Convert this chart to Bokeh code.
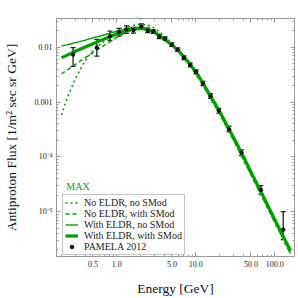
from bokeh.plotting import figure
from bokeh.models import (LogAxis, FixedTicker, Legend, LegendItem, Whisker,
                          ColumnDataSource, TeeHead)
from bokeh.core.properties import value
from bokeh.embed import file_html
from bokeh.resources import INLINE

# ---------------- data ----------------
energy = [0.2, 0.225, 0.25, 0.3, 0.4, 0.5, 0.6, 0.7, 0.85, 1.0, 1.25, 1.5, 1.75,
          2.0, 2.5, 3.0, 3.5, 4.0, 5.0, 6.0, 7.0, 8.5, 10, 12, 15, 20, 30, 40,
          50, 70, 100, 130, 158]

no_eldr_no_smod = [0.00058, 0.00098, 0.00145, 0.0027, 0.0058, 0.0087, 0.0110,
                   0.0131, 0.0160, 0.0185, 0.0220, 0.0243, 0.0258, 0.0264,
                   0.0254, 0.0225, 0.0190, 0.0160, 0.0117, 0.0088, 0.0067,
                   0.0047, 0.0034, 0.00222, 0.00126, 0.00062, 0.000205,
                   9.1e-5, 4.75e-5, 1.82e-5, 6.4e-6, 3.0e-6, 1.72e-6]

no_eldr_with_smod = [0.0033, 0.0037, 0.0041, 0.0049, 0.0065, 0.0080, 0.0095,
                     0.0110, 0.0132, 0.0152, 0.0182, 0.0205, 0.0220, 0.0227,
                     0.0222, 0.0199, 0.0171, 0.0146, 0.0110, 0.0085, 0.0065,
                     0.0046, 0.0033, 0.0022, 0.00125, 0.00061, 0.000203,
                     9.0e-5, 4.7e-5, 1.8e-5, 6.3e-6, 3.0e-6, 1.7e-6]

with_eldr_no_smod = [0.0106, 0.0110, 0.0114, 0.0122, 0.0136, 0.0149, 0.0160,
                     0.0170, 0.0184, 0.0197, 0.0214, 0.0226, 0.0232, 0.0233,
                     0.0222, 0.0198, 0.0170, 0.0147, 0.0114, 0.0090, 0.0069,
                     0.0050, 0.0036, 0.0024, 0.00137, 0.00067, 0.000225,
                     0.000100, 5.2e-5, 2.0e-5, 7.0e-6, 3.3e-6, 1.9e-6]

with_eldr_with_smod = [0.0065, 0.0070, 0.0075, 0.0085, 0.0102, 0.0117, 0.0131,
                       0.0143, 0.0160, 0.0175, 0.0194, 0.0208, 0.0217, 0.0221,
                       0.0212, 0.0188, 0.0162, 0.0141, 0.0111, 0.0088, 0.0068,
                       0.0049, 0.0036, 0.0024, 0.00138, 0.00068, 0.000228,
                       0.000102, 5.3e-5, 2.05e-5, 7.2e-6, 3.4e-6, 1.95e-6]

pamela_e = [0.28, 0.56, 0.82, 1.07, 1.33, 1.63, 2.05, 2.46, 2.9, 3.45, 4.1,
            4.97, 5.9, 7.08, 8.5, 10.1, 12.3, 15.4, 19.6, 26.4, 37.9, 66.8, 128]
pamela_f = [0.0074, 0.0099, 0.0160, 0.0190, 0.0212, 0.0207, 0.0241, 0.0204,
            0.0195, 0.0157, 0.0144, 0.0112, 0.0091, 0.0065, 0.0048, 0.0036,
            0.0022, 0.0013, 0.00070, 0.00032, 0.00012, 2.5e-5, 4.7e-6]
pamela_lo = [0.0045, 0.0069, 0.0134, 0.0160, 0.0180, 0.0182, 0.0213, 0.0186,
             0.0180, 0.0145, 0.0134, 0.0104, 0.0085, 0.0060, 0.0044, 0.0033,
             0.0020, 0.00118, 0.00063, 0.00029, 0.000106, 2.1e-5, 3.1e-6]
pamela_hi = [0.0099, 0.0140, 0.0198, 0.0222, 0.0248, 0.0232, 0.0268, 0.0224,
             0.0211, 0.0170, 0.0155, 0.0121, 0.0098, 0.0070, 0.0052, 0.0039,
             0.0024, 0.00143, 0.00077, 0.00036, 0.000135, 3.0e-5, 1.0e-5]

model_label = ["MAX"]
model_label_x = [0.23]
model_label_y = [2.9e-5]

x_ticks = [0.5, 1, 5, 10, 50, 100]
x_tick_labels = ["0.5", "1.0", "5.0", "10.0", "50.0", "100.0"]
x_minor = [0.2, 0.3, 0.4, 0.6, 0.7, 0.8, 0.9, 2, 3, 4, 6, 7, 8, 9,
           20, 30, 40, 60, 70, 80, 90]
y_ticks = [1e-5, 1e-4, 1e-3, 1e-2]
y_tick_labels = ["10\u207b\u2075", "10\u207b\u2074", "0.001", "0.01"]
y_minor = [k * d for d in (1e-6, 1e-5, 1e-4, 1e-3, 1e-2) for k in range(2, 10)]

# ---------------- style ----------------
GREEN = "#00a000"
GRAY = "#999999"
SERIF = "Liberation Serif"

p = figure(width=298, height=298, x_axis_type="log", y_axis_type="log",
           x_range=(0.1728, 177.8), y_range=(1.52e-6, 0.0337),
           output_backend="svg", toolbar_location=None,
           min_border_left=53, min_border_right=4, min_border_top=18,
           min_border_bottom=41)
p.grid.visible = False
p.outline_line_color = GRAY
p.background_fill_color = "white"
p.border_fill_color = "white"

xt = FixedTicker(ticks=x_ticks, minor_ticks=x_minor)
yt = FixedTicker(ticks=y_ticks, minor_ticks=y_minor)


def style(ax):
    ax.axis_line_color = GRAY
    ax.major_tick_line_color = GRAY
    ax.minor_tick_line_color = GRAY
    ax.major_tick_in = 4
    ax.major_tick_out = 0
    ax.minor_tick_in = 2
    ax.minor_tick_out = 0
    ax.major_label_text_font = SERIF
    ax.major_label_text_font_size = "8px"
    ax.major_label_text_color = "#222222"
    ax.axis_label_text_font = SERIF
    ax.axis_label_text_font_size = "13.5px"
    ax.axis_label_text_font_style = "normal"
    ax.axis_label_text_color = "#111111"


xa = p.xaxis[0]
xa.ticker = xt
xa.major_label_overrides = dict(zip(x_ticks, x_tick_labels))
xa.axis_label = "Energy [GeV]"
style(xa)
xa.major_label_standoff = 4
xa.axis_label_standoff = 11

ya = p.yaxis[0]
ya.ticker = yt
ya.major_label_overrides = dict(zip(y_ticks, y_tick_labels))
ya.axis_label = "Antiproton Flux [1/m\u00b2 sec sr GeV]"
style(ya)
ya.major_label_standoff = 4
ya.axis_label_standoff = 13

top = LogAxis(ticker=xt)
right = LogAxis(ticker=yt)
style(top)
style(right)
top.major_label_overrides = {t: "" for t in x_ticks}
right.major_label_overrides = {t: "" for t in y_ticks}
top.major_label_standoff = 0
right.major_label_standoff = 0
p.add_layout(top, "above")
p.add_layout(right, "right")

# ---------------- curves ----------------
r_dot = p.line(energy, no_eldr_no_smod, line_color=GREEN, line_width=1.6,
               line_dash="2 3")
r_dash = p.line(energy, no_eldr_with_smod, line_color=GREEN, line_width=1.5,
                line_dash="4 3")
r_thin = p.line(energy, with_eldr_no_smod, line_color=GREEN, line_width=1.4)
r_thick = p.line(energy, with_eldr_with_smod, line_color=GREEN, line_width=3.2)

# ---------------- PAMELA data ----------------
src = ColumnDataSource(dict(e=pamela_e, f=pamela_f, lo=pamela_lo, hi=pamela_hi))
w = Whisker(base="e", lower="lo", upper="hi", source=src,
            line_color="#222222", line_width=1.3,
            upper_head=TeeHead(size=5, line_color="#222222", line_width=1.3),
            lower_head=TeeHead(size=5, line_color="#222222", line_width=1.3))
p.add_layout(w)
r_pts = p.scatter("e", "f", source=src, size=3.5, color="#111111")

# model tag above the legend
p.text(x=model_label_x, y=model_label_y, text=model_label, text_color=GREEN,
       text_font=value(SERIF), text_font_size="10px",
       text_baseline="middle", text_align="left")

# ---------------- legend ----------------
legend = Legend(items=[
    LegendItem(label="No ELDR, no SMod", renderers=[r_dot]),
    LegendItem(label="No ELDR, with SMod", renderers=[r_dash]),
    LegendItem(label="With ELDR, no SMod", renderers=[r_thin]),
    LegendItem(label="With ELDR, with SMod", renderers=[r_thick]),
    LegendItem(label="PAMELA 2012", renderers=[r_pts]),
], location=(6, 1), margin=0, padding=2, spacing=0, title_standoff=0,
    glyph_width=13, glyph_height=9, label_height=9, label_standoff=6,
    label_text_font=SERIF, label_text_font_size="10px",
    label_text_color="#222222", border_line_color="#888888",
    background_fill_color="white", background_fill_alpha=1.0)
p.add_layout(legend)

open("out.html", "w").write(file_html(p, INLINE))
